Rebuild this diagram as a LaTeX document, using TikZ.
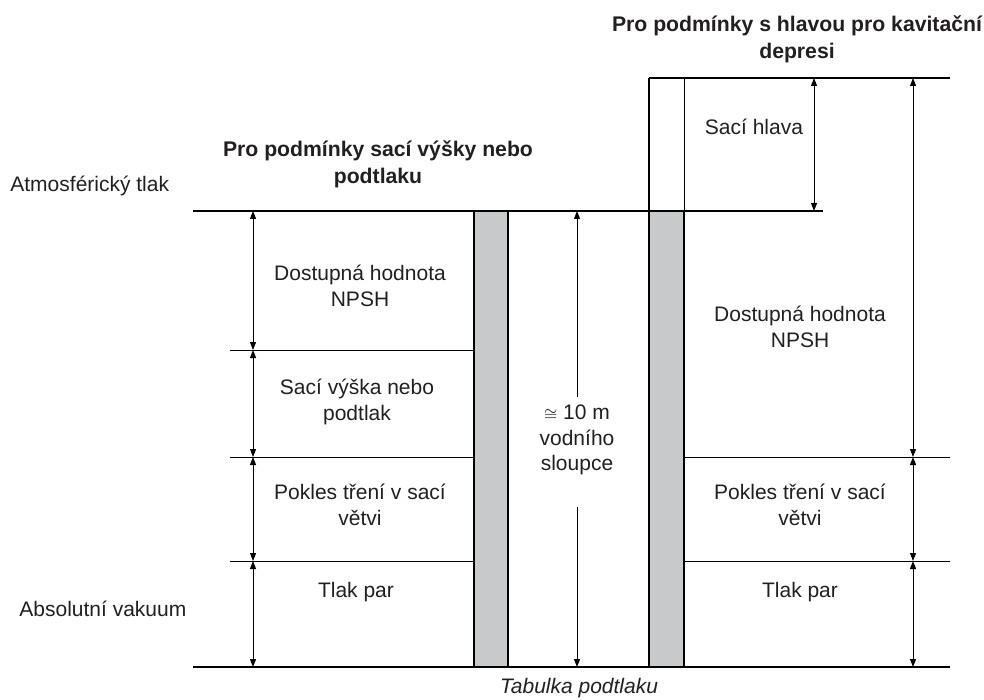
\documentclass[tikz,border=0pt]{standalone}
\usepackage{fontspec}
\setmainfont{Liberation Sans}
\usetikzlibrary{arrows.meta}
\definecolor{txtgray}{RGB}{35,31,32}
\definecolor{colgray}{RGB}{200,201,202}
\tikzset{
    lbl/.style={text=txtgray, font=\fontsize{10.5}{12.8}\selectfont, align=center, inner sep=1pt},
    ttl/.style={lbl, font=\fontsize{10.6}{13.4}\selectfont\bfseries},
    thickline/.style={line width=1pt},
    thinline/.style={line width=0.5pt},
    dimarrow/.style={line width=0.5pt, {Triangle[length=4pt,width=3pt]}-{Triangle[length=4pt,width=3pt]}},
    column/.style={fill=colgray, draw, line width=0.75pt}
}

\begin{document}
\begin{tikzpicture}[x=0.5pt,y=-0.5pt]
	    \useasboundingbox (0,0) rectangle (984,700);
	    % water columns
	    \draw[column] (474,211) rectangle (508,667);
	    \draw[column] (649,211) rectangle (684,667);
	    \draw[line width=0.75pt] (649,211) -- (649,78);
	    \draw[thinline] (684,211) -- (684,78);
	    % levels
	    \draw[thickline] (193,211) -- (823,211);
	    \draw[thickline] (649,78) -- (950,78);
	    \draw[thickline] (193,667) -- (950,667);
	    \foreach \y in {350,457,561} \draw[thinline] (230,\y) -- (474,\y);
	    \foreach \y in {457,561} \draw[thinline] (684,\y) -- (950,\y);
	    % dimension arrows
	    \foreach \a/\b in {211/350,350/457,457/561,561/667}
		      \draw[dimarrow] (253,\a) -- (253,\b);
	    \foreach \a/\b in {78/457,457/561,561/667}
		      \draw[dimarrow] (913,\a) -- (913,\b);
	    \draw[dimarrow] (814,78) -- (814,211);
	    % labels
	    \node[lbl, anchor=west] (atm) at (8,186) {Atmosférický tlak};
	    \node[lbl, anchor=west] (vak) at (17,609) {Absolutní vakuum};
	    \node[ttl] (titleL) at (378,164) {Pro podmínky sací výšky nebo\\podtlaku};
	    \node[ttl] (titleR) at (797,39) {Pro podmínky s hlavou pro kavitační\\depresi};
	    \node[lbl] (npshL) at (360,286) {Dostupná hodnota\\NPSH};
	    \node[lbl] (vyska) at (357,402) {Sací výška nebo\\podtlak};
	    \node[lbl] (treniL) at (360,505) {Pokles tření v sací\\větvi};
	    \node[lbl] (parL) at (356,592) {Tlak par};
	    \node[lbl] (hlava) at (754,127) {Sací hlava};
	    \node[lbl] (npshR) at (800,327) {Dostupná hodnota\\NPSH};
	    \node[lbl] (treniR) at (800,505) {Pokles tření v sací\\větvi};
	    \node[lbl] (parR) at (800,592) {Tlak par};
	    \node[lbl] (sloupec) at (577,440) {{\footnotesize$\cong$} 10 m\\vodního\\sloupce};
	    \node[lbl, font=\fontsize{10.5}{12.8}\selectfont\itshape] (tab) at (579,688) {Tabulka podtlaku};
	    % middle arrow
	    \coordinate (mtop) at (577,397);
	    \coordinate (mbot) at (577,507);
	    \draw[line width=0.5pt, -{Triangle[length=4pt,width=3pt]}] (mtop) -- (577,211);
	    \draw[line width=0.5pt, -{Triangle[length=4pt,width=3pt]}] (mbot) -- (577,667);
	\end{tikzpicture}
\end{document}
